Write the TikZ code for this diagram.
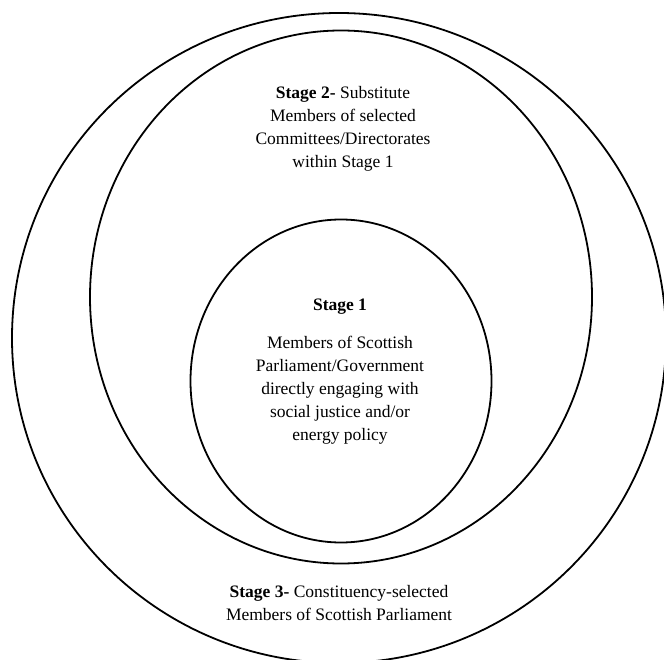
\documentclass[tikz,border=0pt]{standalone}
\usepackage{fontspec}
\setmainfont{Liberation Serif}
\usetikzlibrary{shapes.geometric}
\begin{document}
\begin{tikzpicture}[x=1pt,y=-1pt,
  ring/.style={draw=black, line width=1.8pt, ellipse, inner sep=0pt, fill=none},
  lbl/.style={align=center, inner sep=0pt, font=\fontsize{17.5}{23}\selectfont}]
\useasboundingbox[fill=white] (0,0) rectangle (664,660);
\node[ring, minimum width=654pt, minimum height=650pt] (outer) at (339,338) {};
\node[ring, minimum width=502pt, minimum height=533pt] (middle) at (341,297) {};
\node[ring, minimum width=301pt, minimum height=323pt] (inner) at (341,381) {};
\node[lbl] (s2) at (343,129) {\textbf{Stage 2-} Substitute\\Members of selected\\Committees/Directorates\\within Stage 1};
\node[lbl] (s1) at (340,372) {\textbf{Stage 1}\\[15pt]Members of Scottish\\Parliament/Government\\directly engaging with\\social justice and/or\\energy policy};
\node[lbl] (s3) at (339,603) {\textbf{Stage 3-} Constituency-selected\\Members of Scottish Parliament};
\end{tikzpicture}
\end{document}
